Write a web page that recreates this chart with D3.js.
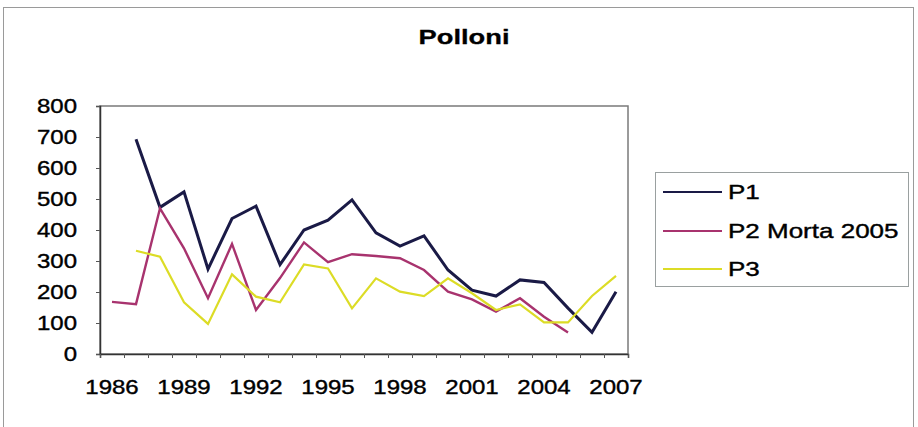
<!DOCTYPE html>
<html>
<head>
<meta charset="utf-8">
<script src="https://cdn.jsdelivr.net/npm/d3@7"></script>
<style>
  html, body { margin: 0; padding: 0; background: #fff; }
  svg { display: block; font-family: "Liberation Sans", Arial, sans-serif; }
</style>
</head>
<body>
<svg id="chart" width="918" height="427"></svg>
<script>
// Yearly counts of "polloni" per plot
const years = d3.range(1986, 2008);
const p1 = [null, 693, 473, 523, 274, 437, 477, 288, 400, 432, 497, 391, 348, 381, 271, 206, 187, 239, 231, 148, 70, 201];
const p2 = [168, 161, 470, 341, 180, 355, 142, 245, 360, 296, 322, 316, 309, 271, 201, 176, 137, 180, 120, 69, null, null];
const p3 = [null, 333, 314, 167, 97, 257, 185, 167, 289, 276, 147, 244, 201, 187, 244, 196, 142, 160, 102, 102, 187, 252];
const seriesNames = ["P1", "P2 Morta 2005", "P3"];
const seriesColors = ["#1a1a46", "#a8336e", "#dcdc26"];
const seriesWidths = [3, 2.4, 2.2];
const yTicks = [0, 100, 200, 300, 400, 500, 600, 700, 800];
const xLabelYears = [1986, 1989, 1992, 1995, 1998, 2001, 2004, 2007];
const title = "Polloni";

const svg = d3.select("#chart");
const SX = 1.2; // horizontal stretch applied to the axis text
const LEG_SX = 1.3; // horizontal stretch for the legend text
const INK = 0.38; // extra outline that gives the text its heavier look

const plot = { left: 100, right: 628, top: 106, bottom: 354 };

// outer chart frame
svg.append("rect")
  .attr("x", 3.5).attr("y", 7.5).attr("width", 910).attr("height", 440)
  .attr("fill", "none").attr("stroke", "#9a9a9a").attr("stroke-width", 1);

const x = d3.scaleBand().domain(years).range([plot.left, plot.right]);
const xc = d => x(d) + x.bandwidth() / 2;
const y = d3.scaleLinear().domain([0, 800]).range([plot.bottom, plot.top]);

// plot area border
svg.append("rect")
  .attr("x", plot.left).attr("y", plot.top)
  .attr("width", plot.right - plot.left).attr("height", plot.bottom - plot.top)
  .attr("fill", "none").attr("stroke", "#7a7a7a").attr("stroke-width", 1.5);

// title
svg.append("text")
  .attr("transform", `translate(464,44) scale(1.3,1)`)
  .attr("text-anchor", "middle")
  .attr("font-size", 21).attr("font-weight", "bold").attr("fill", "#000")
  .attr("stroke", "#000").attr("stroke-width", 0.3)
  .text(title);

// y axis
const yAxis = svg.append("g")
  .attr("transform", `translate(${plot.left},0)`)
  .call(d3.axisLeft(y).tickValues(yTicks).tickSize(4).tickFormat(d3.format("d")));
yAxis.select(".domain").attr("stroke", "#333").attr("stroke-width", 1.5);
yAxis.selectAll(".tick line").attr("stroke", "#555");
yAxis.selectAll("text")
  .attr("x", -23 / SX)
  .attr("transform", `scale(${SX},1)`)
  .attr("font-size", 20).attr("fill", "#000")
  .attr("stroke", "#000").attr("stroke-width", INK)
  .attr("font-family", "Liberation Sans, Arial, sans-serif");

// x axis: tick marks between categories
const edge = d3.scaleLinear().domain([0, years.length]).range([plot.left, plot.right]);
const xTicks = svg.append("g")
  .attr("transform", `translate(0,${plot.bottom})`)
  .call(d3.axisBottom(edge).tickValues(d3.range(0, years.length + 1)).tickSize(4).tickFormat(""));
xTicks.select(".domain").attr("stroke", "#333").attr("stroke-width", 1.5);
xTicks.selectAll(".tick line").attr("stroke", "#555");

// x axis labels at category centres (band axis already centres them)
const xLab = svg.append("g")
  .attr("transform", `translate(0,${plot.bottom})`)
  .call(d3.axisBottom(x).tickValues(xLabelYears).tickSize(0));
xLab.select(".domain").remove();
xLab.selectAll("text")
  .attr("y", 26)
  .attr("transform", `scale(${SX},1)`)
  .attr("font-size", 20).attr("fill", "#000")
  .attr("stroke", "#000").attr("stroke-width", INK)
  .attr("font-family", "Liberation Sans, Arial, sans-serif");

// series lines
const allSeries = [p1, p2, p3];
const line = d3.line()
  .defined(d => d.v != null)
  .x(d => xc(d.year))
  .y(d => y(d.v));

allSeries.forEach((vals, i) => {
  const pts = years.map((yr, j) => ({ year: yr, v: vals[j] }));
  svg.append("path")
    .datum(pts)
    .attr("d", line)
    .attr("fill", "none")
    .attr("stroke", seriesColors[i])
    .attr("stroke-width", seriesWidths[i])
    .attr("stroke-linejoin", "miter");
});

// legend
const lg = svg.append("g");
lg.append("rect")
  .attr("x", 655.5).attr("y", 172.5).attr("width", 253).attr("height", 114)
  .attr("fill", "#fff").attr("stroke", "#9aa0a0").attr("stroke-width", 1);
const rowY = [192, 231, 269];
seriesNames.forEach((name, i) => {
  lg.append("line")
    .attr("x1", 663).attr("x2", 722)
    .attr("y1", rowY[i]).attr("y2", rowY[i])
    .attr("stroke", seriesColors[i]).attr("stroke-width", 2);
  lg.append("text")
    .attr("transform", `translate(728,${rowY[i] + 7}) scale(${LEG_SX},1)`)
    .attr("font-size", 20).attr("fill", "#000")
    .attr("stroke", "#000").attr("stroke-width", INK)
    .text(name);
});
</script>
</body>
</html>
